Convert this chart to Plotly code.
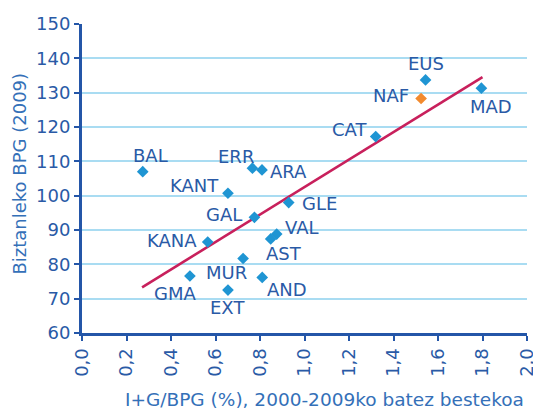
import plotly.graph_objects as go

# Regions: R&D share of GDP (avg 2000-2009) vs GDP per capita (2009)
regions = ["BAL", "KANT", "ERR", "ARA", "EUS", "NAF", "MAD", "CAT", "GAL",
           "KANA", "GMA", "EXT", "MUR", "AND", "GLE", "VAL", "AST"]
rd_share = [0.273, 0.656, 0.766, 0.809, 1.544, 1.524, 1.795, 1.320, 0.775,
            0.565, 0.485, 0.656, 0.724, 0.810, 0.929, 0.875, 0.848]
gdp_pc = [107.0, 100.7, 108.0, 107.5, 133.7, 128.3, 131.3, 117.2, 93.7,
          86.5, 76.6, 72.5, 81.7, 76.2, 98.0, 88.8, 87.4]
highlight = "NAF"

# Trend line end points
trend_x = [0.27, 1.80]
trend_y = [73.3, 134.5]

x_ticks = [0.0, 0.2, 0.4, 0.6, 0.8, 1.0, 1.2, 1.4, 1.6, 1.8, 2.0]
x_tick_text = ["0,0", "0,2", "0,4", "0,6", "0,8", "1,0", "1,2", "1,4", "1,6", "1,8", "2,0"]
y_ticks = [60, 70, 80, 90, 100, 110, 120, 130, 140, 150]

FONT = "DejaVu Sans"
DARK = "#2a5aa6"
AXIS = "#2456a8"
TITLE = "#3470b8"
GRID = "#a9dcf2"
MARK = "#1f95d3"
ORANGE = "#f28a2e"
LINE = "#c8205c"

# label placement: (xanchor, xshift, yshift) in px relative to marker
label_pos = {
    "BAL": ("center", 8, 16), "KANT": ("right", -7, 8), "ERR": ("center", -16, 12),
    "ARA": ("left", 6, -2), "EUS": ("center", 0, 16), "NAF": ("right", -10, 3),
    "MAD": ("center", 10, -18), "CAT": ("right", -7, 7), "GAL": ("right", -10, 3),
    "KANA": ("right", -9, 2), "GMA": ("center", -15, -17), "EXT": ("center", 0, -17),
    "MUR": ("center", -17, -14), "AND": ("left", 3, -12), "GLE": ("left", 11, -1),
    "VAL": ("left", 6, 7), "AST": ("left", -7, -15),
}

colors = [ORANGE if r == highlight else MARK for r in regions]

fig = go.Figure()
fig.add_trace(go.Scatter(
    x=trend_x, y=trend_y, mode="lines",
    line=dict(color=LINE, width=2.6), hoverinfo="skip",
))
fig.add_trace(go.Scatter(
    x=rd_share, y=gdp_pc, mode="markers", text=regions,
    marker=dict(symbol="diamond", size=9, color=colors, line=dict(width=0)),
))

for name, xv, yv in zip(regions, rd_share, gdp_pc):
    anchor, dx, dy = label_pos[name]
    fig.add_annotation(
        x=xv, y=yv, text=name, showarrow=False,
        xanchor=anchor, yanchor="middle", xshift=dx, yshift=dy,
        font=dict(family=FONT, size=18, color=DARK),
    )

# axis titles
fig.add_annotation(
    xref="paper", yref="paper", x=0.546, y=0, yshift=-66,
    text="I+G/BPG (%), 2000-2009ko batez bestekoa", showarrow=False,
    xanchor="center", yanchor="middle",
    font=dict(family=FONT, size=18.5, color=TITLE),
)
fig.add_annotation(
    xref="paper", yref="paper", x=0, xshift=-62, y=0.516,
    text="Biztanleko BPG (2009)", showarrow=False, textangle=-90,
    xanchor="center", yanchor="middle",
    font=dict(family=FONT, size=18, color=TITLE),
)

fig.update_layout(
    width=533, height=410,
    margin=dict(l=82, r=6, t=24, b=77),
    paper_bgcolor="white", plot_bgcolor="white",
    showlegend=False,
    font=dict(family=FONT, color=DARK),
    xaxis=dict(
        range=[0, 2.0], tickvals=x_ticks, ticktext=x_tick_text, tickangle=-90,
        ticklabeloverflow="allow", automargin=False,
        showgrid=False, zeroline=False,
        showline=True, linecolor=AXIS, linewidth=3,
        ticks="outside", ticklen=5, tickwidth=2, tickcolor=AXIS,
        tickfont=dict(family=FONT, size=18, color=DARK),
    ),
    yaxis=dict(
        range=[60, 150], tickvals=y_ticks, automargin=False,
        showgrid=True, gridcolor=GRID, gridwidth=2, zeroline=False,
        showline=True, linecolor=AXIS, linewidth=3,
        ticks="outside", ticklen=5, tickwidth=2, tickcolor=AXIS,
        tickfont=dict(family=FONT, size=18, color=DARK),
    ),
)

fig.write_html("out.html")
